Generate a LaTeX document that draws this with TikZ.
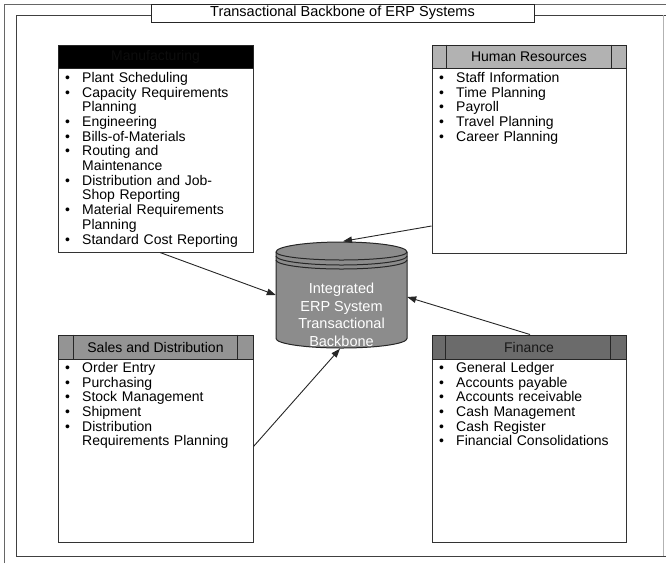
\documentclass[tikz,border=0pt]{standalone}
\usepackage{fontspec}
\setmainfont{Liberation Sans}
\usetikzlibrary{arrows.meta}
\newcommand\bul[1]{\hangindent=19pt\hangafter=1\noindent\makebox[19pt][l]{\hspace{2pt}•}#1\par}
\newcommand\brk{\hfil\break}
\tikzset{
  modbox/.style={draw=black!80, line width=1pt, fill=white, inner sep=0pt},
  hdrbox/.style={draw=black!85, line width=1pt, inner sep=0pt, anchor=north, font=\fontsize{14}{16}\selectfont},
  listtext/.style={anchor=north west, inner sep=0pt, text width=190pt, font=\fontsize{14}{14.7}\selectfont},
  part/.style={draw=black!85, line width=1pt},
  conn/.style={draw=black!85, line width=0.9pt, -{Triangle[length=9pt,width=6.5pt]}},
  frameline/.style={draw=black!60, line width=0.8pt},
  cyl/.style={draw=black!85, line width=1pt}
}
\begin{document}
\begin{tikzpicture}[x=1pt,y=-1pt]
\useasboundingbox (0,0) rectangle (666,563);
% outer page edges and inner frame
\draw[frameline] (4,563) -- (4,4) -- (666,4);
\draw[frameline, black!75] (16,15) -- (16,556) -- (666,556);
\draw[frameline, black!75] (16,15) -- (666,15);
\draw[frameline, black!30] (663,15) -- (663,556);
\node[draw=black!85, line width=1pt, fill=white, minimum width=383, minimum height=18, inner sep=0pt, font=\fontsize{14.5}{16}\selectfont] (title) at (342.5,13) {Transactional Backbone of ERP Systems};

% boxes
\node[modbox, minimum width=195, minimum height=207] (manuf) at (155.5,148.5) {};
\node[modbox, minimum width=194, minimum height=208] (hr) at (529,149) {};
\node[modbox, minimum width=195, minimum height=207] (sales) at (155.5,438.5) {};
\node[modbox, minimum width=194, minimum height=207] (fin) at (529,438.5) {};

% headers
\node[hdrbox, fill=black, text=black!95, minimum width=195, minimum height=23] (manufh) at (manuf.north) {Manufacturing};
\node[hdrbox, fill=black!30, minimum width=194, minimum height=23] (hrh) at (hr.north) {Human Resources};
\draw[part] ([xshift=15pt]hrh.north west) -- ([xshift=15pt]hrh.south west);
\draw[part] ([xshift=-15pt]hrh.north east) -- ([xshift=-15pt]hrh.south east);
\node[hdrbox, fill=black!42, minimum width=195, minimum height=24] (salesh) at (sales.north) {Sales and Distribution};
\draw[part] ([xshift=16pt]salesh.north west) -- ([xshift=16pt]salesh.south west);
\draw[part] ([xshift=-16pt]salesh.north east) -- ([xshift=-16pt]salesh.south east);
\node[hdrbox, fill=black!58, text=black!90, minimum width=194, minimum height=24] (finh) at (fin.north) {Finance};
\draw[part] ([xshift=14pt]finh.north west) -- ([xshift=14pt]finh.south west);
\draw[part] ([xshift=-16pt]finh.north east) -- ([xshift=-16pt]finh.south east);

% lists
\node[listtext] (manufl) at (63,72) {\raggedright
\bul{Plant Scheduling}
\bul{Capacity Requirements\brk Planning}
\bul{Engineering}
\bul{Bills-of-Materials}
\bul{Routing and\brk Maintenance}
\bul{Distribution and Job-\brk Shop Reporting}
\bul{Material Requirements\brk Planning}
\bul{Standard Cost Reporting}};
\node[listtext] (hrl) at (437,72) {\raggedright
\bul{Staff Information}
\bul{Time Planning}
\bul{Payroll}
\bul{Travel Planning}
\bul{Career Planning}};
\node[listtext] (salesl) at (63,362) {\raggedright
\bul{Order Entry}
\bul{Purchasing}
\bul{Stock Management}
\bul{Shipment}
\bul{Distribution\brk Requirements Planning}};
\node[listtext] (finl) at (437,362) {\raggedright
\bul{General Ledger}
\bul{Accounts payable}
\bul{Accounts receivable}
\bul{Cash Management}
\bul{Cash Register}
\bul{Financial Consolidations}};

% cylinder
\node[minimum width=131, minimum height=107, inner sep=0pt] (db) at (341.5,295) {};
\draw[cyl, fill=black!45]
  (276,252) -- (276,338.5) arc[start angle=180, end angle=360, x radius=65.5pt, y radius=9.5pt]
  -- (407,252) arc[start angle=0, end angle=180, x radius=65.5pt, y radius=10pt] -- cycle;
\draw[cyl] (276,252) arc[start angle=180, end angle=360, x radius=65.5pt, y radius=8pt];
\draw[cyl] (276,256) arc[start angle=180, end angle=360, x radius=65.5pt, y radius=9pt];
\draw[cyl] (276,260) arc[start angle=180, end angle=360, x radius=65.5pt, y radius=9pt];
\node[text=white, align=center, font=\fontsize{14.5}{17.5}\selectfont] (dbtext) at (341.5,315) {Integrated\\ERP System\\Transactional\\Backbone};

% connectors
\draw[conn] ([xshift=4.5pt]manuf.south) -- (db.west);
\draw[conn] ([yshift=-77pt]hr.west) -- ([xshift=1.5pt]db.north);
\draw[conn] ([yshift=-8pt]sales.east) -- ([xshift=-1.5pt]db.south);
\draw[conn] ([xshift=1pt]fin.north) -- ([yshift=-2pt]db.east);
\end{tikzpicture}
\end{document}
